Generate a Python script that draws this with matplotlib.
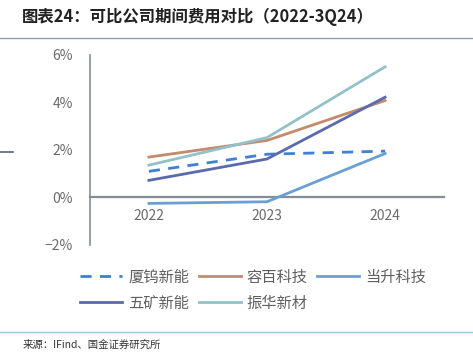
import matplotlib.pyplot as plt
from matplotlib.lines import Line2D

plt.rcParams['font.family'] = ['Noto Sans CJK SC', 'DejaVu Sans']

# --- data (% of revenue) ---
years = ['2022', '2023', '2024']
xiawu = [1.10, 1.82, 1.95]      # 厦钨新能
rongbai = [1.70, 2.40, 4.08]    # 容百科技
dangsheng = [-0.25, -0.18, 1.85]  # 当升科技
wukuang = [0.72, 1.62, 4.22]    # 五矿新能
zhenhua = [1.36, 2.52, 5.50]    # 振华新材

yticks = [-2, 0, 2, 4, 6]
ytick_labels = ['−2%', '0%', '2%', '4%', '6%']

fig = plt.figure(figsize=(4.73, 3.52), dpi=100)
ax = fig.add_axes([0.190, 0.304, 0.749, 0.540])

x = range(len(years))
lw = 2.0
l1, = ax.plot(x, xiawu, color='#3f7fd6', lw=lw, dashes=(4, 3), label='厦钨新能')
l2, = ax.plot(x, rongbai, color='#c48a6c', lw=lw, label='容百科技')
l3, = ax.plot(x, dangsheng, color='#6a9fd6', lw=lw, label='当升科技')
l4, = ax.plot(x, wukuang, color='#5a6aad', lw=lw, label='五矿新能')
l5, = ax.plot(x, zhenhua, color='#93c1c9', lw=lw, label='振华新材')

ax.set_xlim(-0.5, 2.5)
ax.set_ylim(-2, 6)
ax.set_yticks(yticks)
ax.set_yticklabels(ytick_labels)
ax.set_xticks(list(x))
ax.set_xticklabels(years)
for s in ['top', 'right']:
    ax.spines[s].set_visible(False)
# zero line acts as x axis
ax.spines['bottom'].set_position(('data', 0))
ax.spines['bottom'].set_color('#858c96')
ax.spines['bottom'].set_linewidth(1.6)
ax.spines['bottom'].set_zorder(1)
ax.spines['left'].set_color('#858c96')
ax.spines['left'].set_linewidth(1.2)
ax.tick_params(axis='y', length=0, pad=12, labelsize=10, labelcolor='#6b6b6b')
ax.tick_params(axis='x', length=0, pad=8, labelsize=10, labelcolor='#6b6b6b')

# order so rows read: 厦钨 容百 当升 / 五矿 振华
handles = [l1, l4, l2, l5, l3]
ax.legend(handles=handles, labels=[h.get_label() for h in handles],
          loc='upper left', bbox_to_anchor=(0.170, 0.237), bbox_transform=fig.transFigure,
          ncol=3, frameon=False, fontsize=11, labelcolor='#5f5f5f',
          handlelength=2.75, handletextpad=0.4, columnspacing=0.6,
          labelspacing=0.6, borderaxespad=0, borderpad=0)

# title and rules
fig.text(0.047, 0.952, '图表24：可比公司期间费用对比（2022-3Q24）', fontsize=11.8,
         fontweight='bold', color='#222222', va='center', ha='left')
fig.add_artist(Line2D([0, 1], [0.893, 0.893], color='#8a9db3', lw=1.0))
fig.add_artist(Line2D([0, 0.028], [0.568, 0.568], color='#5a6378', lw=1.2))
fig.add_artist(Line2D([0, 1], [0.057, 0.057], color='#9cc4d6', lw=1.0))
fig.text(0.047, 0.022, '来源：IFind、国金证券研究所', fontsize=7.5, color='#333333',
         va='center', ha='left')

fig.savefig('out.png', dpi=100)
